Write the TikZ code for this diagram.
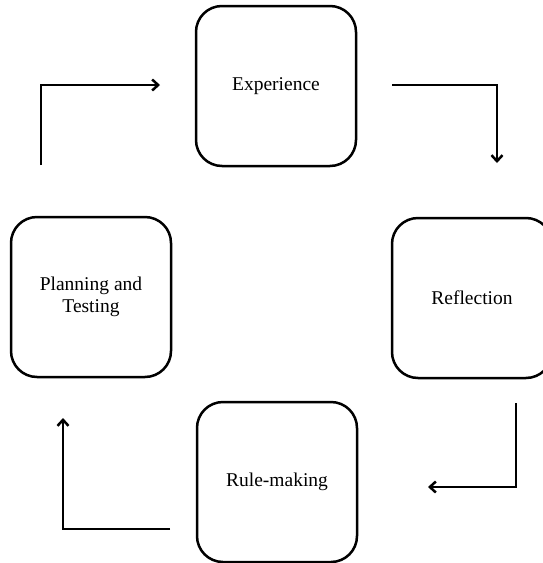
\documentclass[tikz,border=0pt]{standalone}
\usepackage{fontspec}
\setmainfont{Liberation Serif}
\usetikzlibrary{arrows.meta}
\begin{document}
\begin{tikzpicture}[x=1pt,y=-1pt,
  stage/.style={draw=black, line width=2.5pt, rounded corners=26pt, minimum width=160pt, minimum height=160pt, inner sep=0pt, align=center, font=\fontsize{19.5}{22.5}\selectfont},
  flow/.style={draw=black, line width=2.5pt, -{Straight Barb[length=6pt,width=11pt,line width=2.5pt]}}]
\useasboundingbox (0,0) rectangle (543,563);
\node[stage] (exp) at (276,86) {Experience};
\node[stage] (ref) at (472,298) {Reflection};
\node[stage] (rule) at (277,482) {Rule-making};
\node[stage] (plan) at (91,297) {Planning and\\Testing};
\coordinate (a1) at (41,165);
\coordinate (a2) at (160,85);
\coordinate (b1) at (392,85);
\coordinate (b2) at (497,163);
\coordinate (c1) at (516,403);
\coordinate (c2) at (428,487);
\coordinate (d1) at (170,529);
\coordinate (d2) at (63,418);
\draw[flow] (a1) |- (a2);
\draw[flow] (b1) -| (b2);
\draw[flow] (c1) |- (c2);
\draw[flow] (d1) -| (d2);
\end{tikzpicture}
\end{document}
